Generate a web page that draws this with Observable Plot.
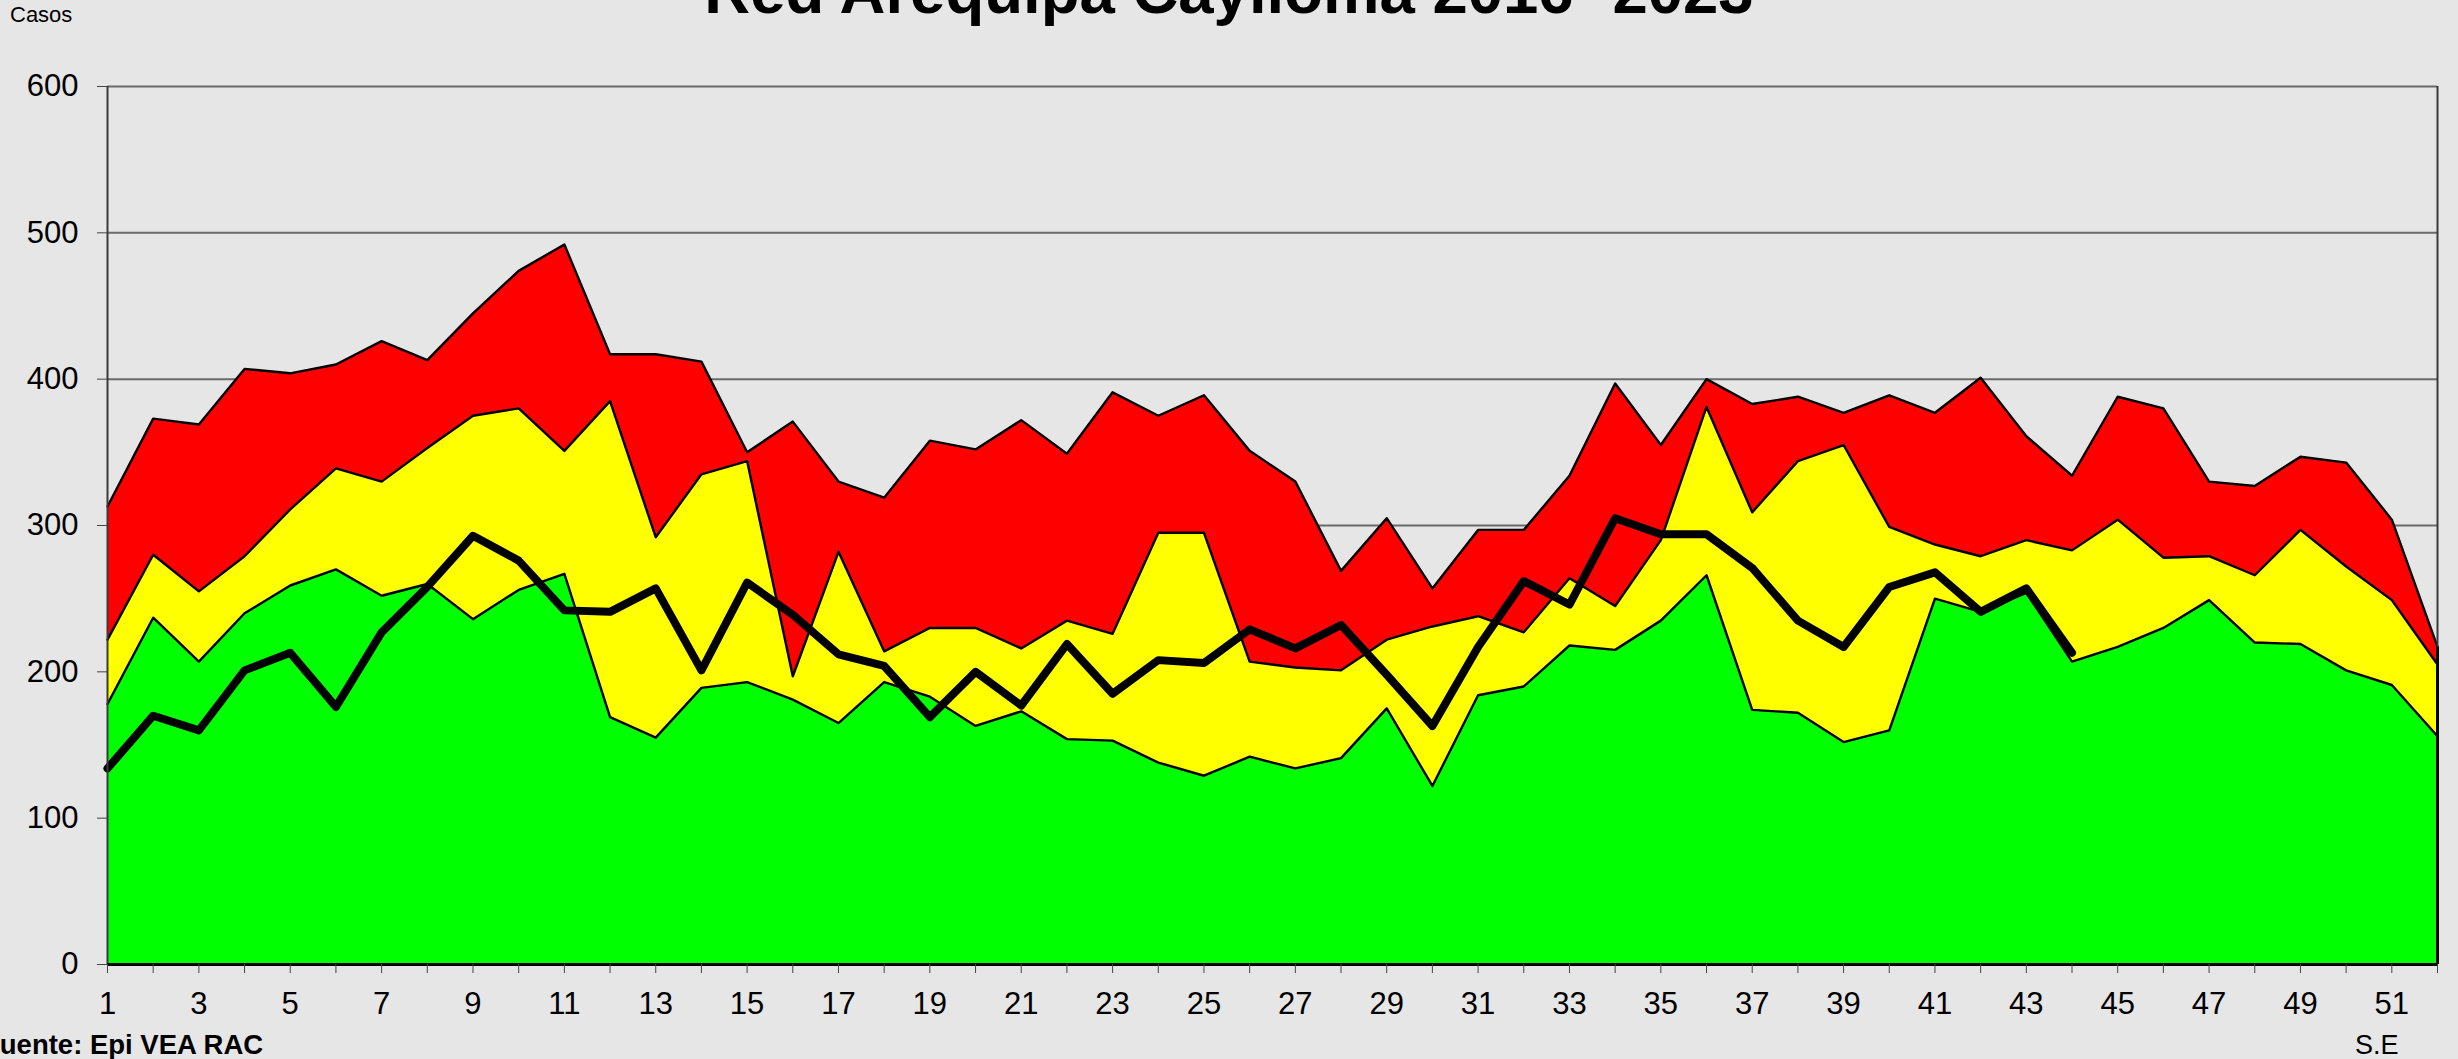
<!DOCTYPE html>
<html>
<head>
<meta charset="utf-8">
<script src="https://cdn.jsdelivr.net/npm/d3@7"></script>
<script src="https://cdn.jsdelivr.net/npm/@observablehq/plot@0.6"></script>
<style>
html, body { margin: 0; padding: 0; background: #e6e6e6; overflow: hidden; }
#wrap { position: relative; width: 2458px; height: 1059px; font-family: "Liberation Sans", Arial, sans-serif; }
#wrap svg { position: absolute; left: 0; top: 0; }
.t { position: absolute; white-space: nowrap; line-height: 1; color: #000; font-family: "Liberation Sans", Arial, sans-serif; }
</style>
</head>
<body>
<div id="wrap">
  <div id="chart"></div>
  <div class="t" id="title" style="left:0;width:2458px;text-align:center;top:-40px;font-size:63.5px;font-weight:bold;">Red Arequipa Caylloma 2016 -2023</div>
  <div class="t" id="ylab" style="left:10px;top:4px;font-size:22px;">Casos</div>
  <div class="t" id="src" style="left:-17px;top:1031px;font-size:27.5px;font-weight:bold;">Fuente: Epi VEA RAC</div>
  <div class="t" id="xlab" style="left:2355px;top:1032px;font-size:27px;">S.E</div>
</div>
<script>
const weeks = [1,2,3,4,5,6,7,8,9,10,11,12,13,14,15,16,17,18,19,20,21,22,23,24,25,26,27,28,29,30,31,32,33,34,35,36,37,38,39,40,41,42,43,44,45,46,47,48,49,50,51,52];

// Zona de éxito (green top)
const green = [178,237,207,240,259,270,252,260,236,256,267,169,155,189,193,181,165,193,183,163,173,154,153,138,129,142,134,141,175,122,184,190,218,215,235,266,174,172,152,160,250,241,254,207,217,230,249,220,219,201,191,156];

// Zona de seguridad (yellow top)
const yellow = [222,280,255,279,311,339,330,353,375,380,351,385,292,335,344,197,282,214,230,230,216,235,226,295,295,207,203,201,222,231,238,227,264,245,290,381,309,344,355,299,287,279,290,283,304,278,279,266,297,272,249,205];

// Zona de alarma (red top)
const red = [313,373,369,407,404,410,426,413,445,474,492,417,417,412,350,371,330,319,358,352,372,349,391,375,389,351,330,269,305,257,297,297,334,397,355,400,383,388,377,389,377,401,361,334,388,380,330,327,347,343,304,217];

// Casos del año actual (black line)
const current = [134,170,160,201,213,176,227,258,293,276,242,241,257,201,261,239,212,204,169,200,177,219,185,208,206,229,216,232,198,163,217,262,246,305,294,294,271,235,217,258,268,241,257,213];

const yTicks = [0,100,200,300,400,500,600];
const gridValues = [100,200,300,400,500,600];
const xTicks = weeks;

const table = weeks.map((w, i) => ({week: w, green: green[i], yellow: yellow[i], red: red[i]}));
const cur = current.map((v, i) => ({week: weeks[i], value: v}));

const chart = Plot.plot({
  width: 2458,
  height: 1059,
  marginLeft: 107,
  marginRight: 21,
  marginTop: 86,
  marginBottom: 95,
  style: {background: "#e6e6e6", fontFamily: "Liberation Sans, Arial, sans-serif", fontSize: "31px", overflow: "visible"},
  x: {domain: [1, 52], axis: null},
  y: {domain: [0, 600], axis: null},
  marks: [
    Plot.ruleY(gridValues, {stroke: "#6a6a6a", strokeWidth: 2}),
    Plot.areaY(table, {x: "week", y1: 0, y2: "red", fill: "#ff0000"}),
    Plot.line(table, {x: "week", y: "red", stroke: "black", strokeWidth: 2.4}),
    Plot.areaY(table, {x: "week", y1: 0, y2: "yellow", fill: "#ffff00"}),
    Plot.line(table, {x: "week", y: "yellow", stroke: "black", strokeWidth: 2.4}),
    Plot.areaY(table, {x: "week", y1: 0, y2: "green", fill: "#00ff00"}),
    Plot.line(table, {x: "week", y: "green", stroke: "black", strokeWidth: 2.4}),
    Plot.line(cur, {x: "week", y: "value", stroke: "black", strokeWidth: 8, strokeLinejoin: "round", strokeLinecap: "round"}),
    Plot.ruleX([1], {stroke: "#3a3a3a", strokeWidth: 2}),
    Plot.ruleX([52], {stroke: "#3a3a3a", strokeWidth: 2}),
    Plot.ruleX([52], {y1: 0, y2: red[red.length - 1], stroke: "black", strokeWidth: 3}),
    Plot.ruleY([0], {stroke: "black", strokeWidth: 3}),
    Plot.axisY({ticks: yTicks, tickSize: 10, tickPadding: 19, fontSize: 31, stroke: "#444", fill: "black", label: null}),
    Plot.axisX({ticks: xTicks, tickSize: 9, tickPadding: 18, fontSize: 31, stroke: "#444", fill: "black", label: null,
      tickFormat: d => (d % 2 === 1 ? String(d) : "")})
  ]
});
document.getElementById("chart").appendChild(chart);
</script>
</body>
</html>
